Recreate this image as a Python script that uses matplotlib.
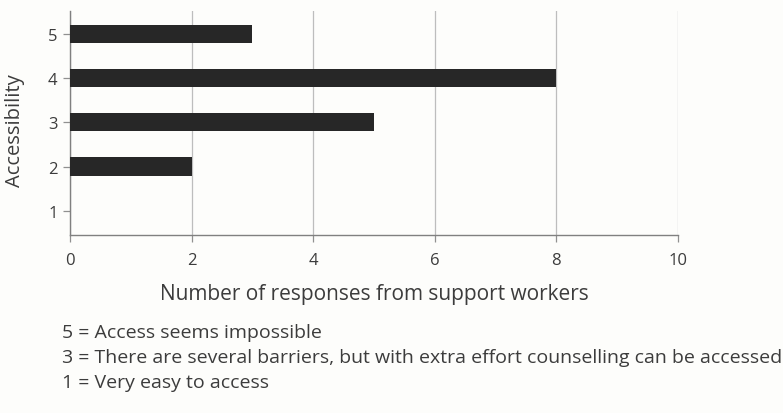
import matplotlib
matplotlib.use("Agg")
import matplotlib.pyplot as plt

# Dados
acessibilidade = [5, 4, 3, 2, 1]
respostas = [3, 8, 5, 2, 0]
legendas = [
    "5 = Access seems impossible",
    "3 = There are several barriers, but with extra effort counselling can be accessed",
    "1 = Very easy to access",
]

plt.rcParams['font.family'] = ['Open Sans', 'DejaVu Sans']
cor_texto = '#3c3c3c'

fig = plt.figure(figsize=(7.83, 4.14), dpi=100)
fig.patch.set_facecolor('#fdfdfb')
ax = fig.add_axes([70/783, 1-236/414, 608/783, 224/414])
ax.set_facecolor('#fdfdfb')

ax.barh(acessibilidade, respostas, height=0.41, color='#272727', zorder=3)

ax.set_xlim(0, 10)
ax.set_ylim(0.45, 5.52)
ax.set_xticks([0, 2, 4, 6, 8, 10])
ax.set_yticks([1, 2, 3, 4, 5])
ax.grid(axis='x', color='#bdbdbd', linewidth=0.9, zorder=0)

for lado in ['top', 'right']:
    ax.spines[lado].set_visible(False)
for lado in ['left', 'bottom']:
    ax.spines[lado].set_color('#808080')
    ax.spines[lado].set_linewidth(1.0)
ax.tick_params(colors='#909090', labelcolor=cor_texto, labelsize=12, length=5, width=0.9)
ax.tick_params(axis='x', pad=7)
ax.tick_params(axis='y', pad=4)

ax.set_xlabel('Number of responses from support workers', fontsize=15, color=cor_texto)
ax.xaxis.set_label_coords(0.5, -(284 - 236)/224)
ax.set_ylabel('Accessibility', fontsize=14.5, color=cor_texto)
ax.yaxis.set_label_coords(-45/608, 0.47)

# Legenda explicativa abaixo do gráfico
for i, texto in enumerate(legendas):
    fig.text(62/783, 1-(333 + 25*i)/414, texto, fontsize=14, color=cor_texto, va='center', ha='left')

plt.savefig('out.png', dpi=100, facecolor=fig.get_facecolor())
